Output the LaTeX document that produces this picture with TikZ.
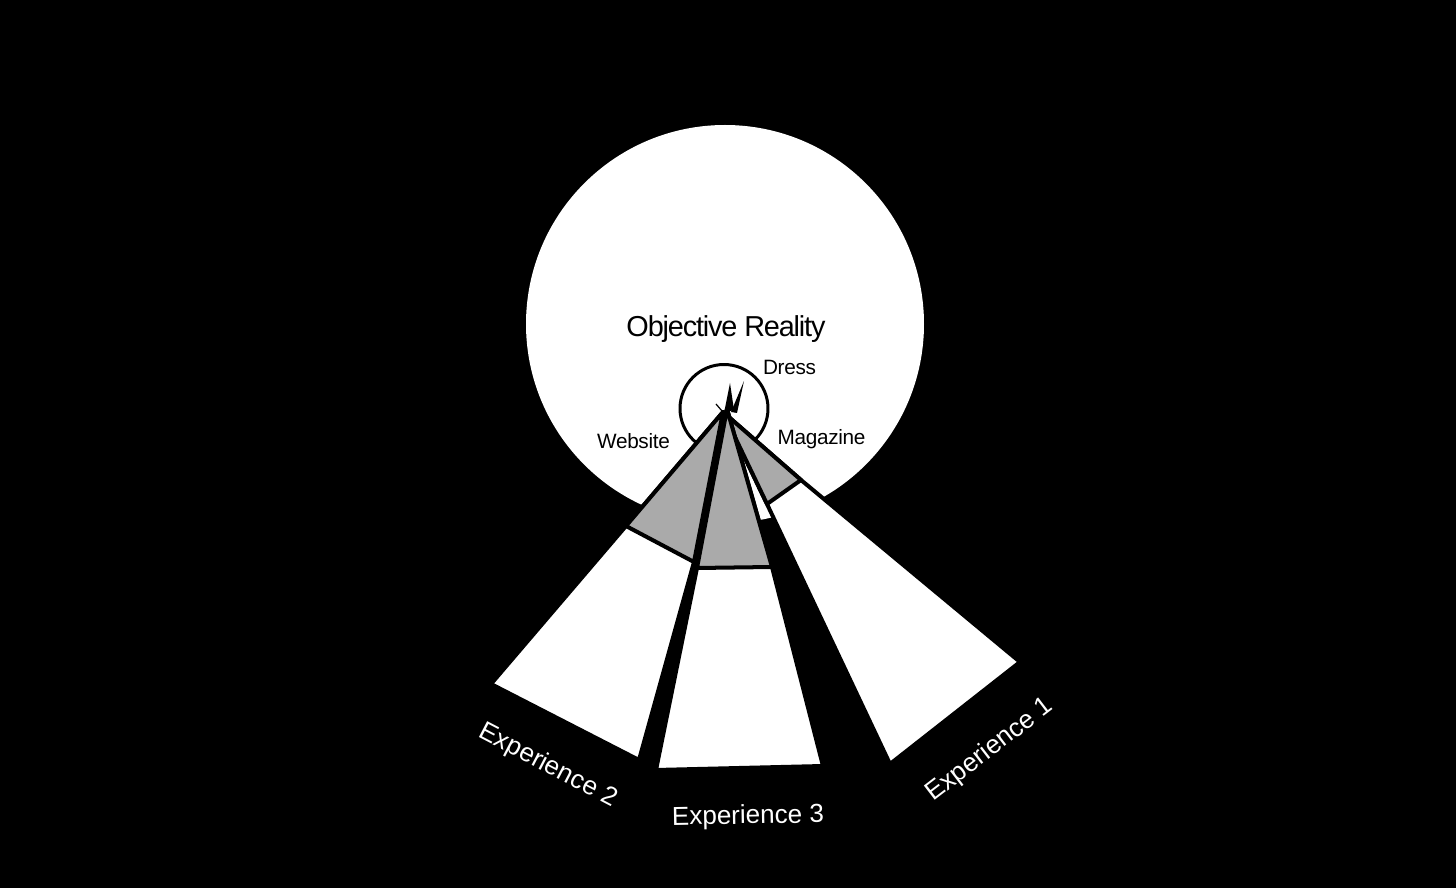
\documentclass[tikz,border=0pt]{standalone}
\usepackage{fontspec}
\setmainfont{Liberation Sans}
\newfontfamily\titlefont[LetterSpace=-4]{Liberation Sans}
\newfontfamily\labelfont[LetterSpace=-1.5]{Liberation Sans}
\newfontfamily\expfont{Liberation Sans}
\definecolor{fangray}{RGB}{170,170,170}
\begin{document}
\begin{tikzpicture}[x=0.01cm,y=-0.01cm,
  fanline/.style={draw=black,line width=1.14pt,line join=round},
  whitepart/.style={fanline,fill=white},
  graypart/.style={fanline,fill=fangray},
  titletext/.style={font=\titlefont\fontsize{8.2}{10}\selectfont,text=black,inner sep=0pt,anchor=base},
  smalltext/.style={font=\labelfont\fontsize{5.9}{7}\selectfont,text=black,inner sep=0pt,anchor=base},
  exptext/.style={font=\expfont\fontsize{7.4}{9}\selectfont,text=white,inner sep=0pt,anchor=center}]
\fill[black] (0,0) rectangle (1456,888);
\useasboundingbox (0,0) rectangle (1456,888);

% big circle
\fill[white] (725,324) circle[radius=199];
% small circle
\draw[black,line width=0.85pt] (724,408.5) circle[radius=44];

% fan coordinates
\coordinate (R0) at (723,412);
\coordinate (Rnl) at (767,504);
\coordinate (Rnr) at (801,480);
\coordinate (Rfr) at (1020,662);
\coordinate (Rfb) at (890,764);

\coordinate (L0) at (723,412);
\coordinate (Lnl) at (626,526);
\coordinate (Lfl) at (491,684);
\coordinate (Lfr) at (639,760);
\coordinate (Lnr) at (694,562);

\coordinate (M0) at (727,409);
\coordinate (Mnl) at (697,568);
\coordinate (Mfl) at (656,770);
\coordinate (Mfr) at (823,766);
\coordinate (Mnr) at (772,567);

% right fan (Experience 1)
\path[whitepart] (R0) -- (Rnl) -- (Rfb) -- (Rfr) -- (Rnr) -- cycle;
\path[graypart] (R0) -- (Rnl) -- (Rnr) -- cycle;
% left fan (Experience 2)
\path[whitepart] (L0) -- (Lnl) -- (Lfl) -- (Lfr) -- (Lnr) -- cycle;
\path[graypart] (L0) -- (Lnl) -- (Lnr) -- cycle;
% black band between left and middle fans
\fill[black] (L0) -- (Lnr) -- (Mnl) -- (M0) -- cycle;
% middle fan (Experience 3)
\path[whitepart] (M0) -- (Mnl) -- (Mfl) -- (Mfr) -- (Mnr) -- cycle;
\path[graypart] (M0) -- (Mnl) -- (Mnr) -- cycle;

% spikes at the apex
\fill[black] (724,413) -- (730,383) -- (734,410) -- cycle;
\fill[black] (731,412) -- (744,381) -- (737,413) -- cycle;
\draw[black,line width=0.35pt] (716,404) -- (722,411);

% labels
\node[titletext] (objreal) at (726,336.5) {Objective Reality};
\node[smalltext] (dress) at (789.5,375) {Dress};
\node[smalltext] (website) at (633.5,448.3) {Website};
\node[smalltext] (magazine) at (821.5,445) {Magazine};
\node[exptext,rotate=-27.5] (exp2) at (548,766) {Experience 2};
\node[exptext,rotate=1] (exp3) at (748,817) {Experience 3};
\node[exptext,rotate=37.5] (exp1) at (990,750) {Experience 1};
\end{tikzpicture}
\end{document}
